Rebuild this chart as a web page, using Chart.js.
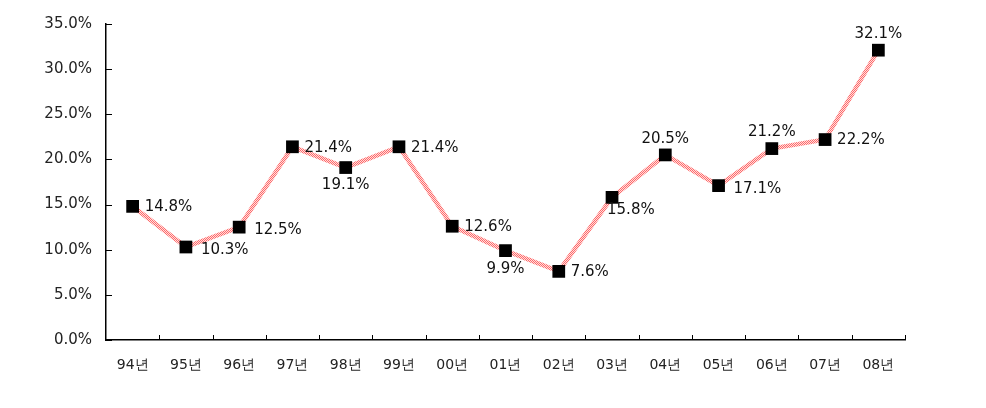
<!DOCTYPE html>
<html>
<head>
<meta charset="utf-8">
<script src="https://cdn.jsdelivr.net/npm/chart.js@4"></script>
<style>
  body { margin: 0; background: #fff; }
  #wrap { width: 986px; height: 408px; }
</style>
</head>
<body>
<div id="wrap"><canvas id="chart" width="986" height="408"></canvas></div>
<script>
// 데이터
const years = ['94년', '95년', '96년', '97년', '98년', '99년', '00년', '01년', '02년', '03년', '04년', '05년', '06년', '07년', '08년'];
const rates = [14.8, 10.3, 12.5, 21.4, 19.1, 21.4, 12.6, 9.9, 7.6, 15.8, 20.5, 17.1, 21.2, 22.2, 32.1];
const yTicks = [0, 5, 10, 15, 20, 25, 30, 35];

// 라벨 위치 (점 기준)
const labelSide = ['r', 'rb', 'rb', 'r', 'b', 'r', 'r', 'b', 'r', 'br', 't', 'rb', 't', 'r', 't'];

const FONT = 'DejaVu Sans';

// 빗금 패턴 선
function hatchPattern() {
    const c = document.createElement('canvas');
    c.width = 4; c.height = 4;
    const g = c.getContext('2d');
    g.fillStyle = '#ffdede';
    g.fillRect(0, 0, 4, 4);
    g.fillStyle = '#ff6a6a';
    for (let i = 0; i < 4; i++) {
        g.fillRect(i, i, 1, 1);
        g.fillRect((i + 2) % 4, i, 1, 1);
    }
    return document.getElementById('chart').getContext('2d').createPattern(c, 'repeat');
}

// 안쪽 눈금 + 값 라벨
const decorPlugin = {
    id: 'decor',
    afterDatasetsDraw(chart) {
        const ctx = chart.ctx;
        const area = chart.chartArea;
        const y = chart.scales.y;
        ctx.save();
        ctx.strokeStyle = '#000';
        ctx.lineWidth = 1;
        ctx.beginPath();
        yTicks.forEach(v => {
            const py = Math.round(y.getPixelForValue(v)) + 0.5;
            ctx.moveTo(area.left, py);
            ctx.lineTo(area.left + 6, py);
        });
        for (let i = 1; i <= years.length; i++) {
            const px = Math.round(area.left + (area.right - area.left) * i / years.length) + 0.5;
            ctx.moveTo(px, area.bottom);
            ctx.lineTo(px, area.bottom - 5);
        }
        ctx.stroke();

        ctx.fillStyle = '#111';
        ctx.font = '15px "' + FONT + '"';
        const meta = chart.getDatasetMeta(0);
        meta.data.forEach((pt, i) => {
            const txt = rates[i].toFixed(1) + '%';
            const side = labelSide[i];
            let tx = pt.x, ty = pt.y;
            ctx.textBaseline = 'middle';
            if (side === 'r') { ctx.textAlign = 'left'; tx += 12; ty += 1; }
            else if (side === 'rb') { ctx.textAlign = 'left'; tx += 15; ty += 3; }
            else if (side === 'br') { ctx.textAlign = 'left'; tx -= 5; ty += 13; }
            else if (side === 'b') { ctx.textAlign = 'center'; ty += 18; }
            else if (side === 't') { ctx.textAlign = 'center'; ty -= 16; }
            ctx.fillText(txt, tx, ty);
        });
        ctx.restore();
    }
};

new Chart(document.getElementById('chart'), {
    type: 'line',
    data: {
        labels: years,
        datasets: [{
            data: rates,
            borderColor: hatchPattern(),
            borderWidth: 4.5,
            tension: 0,
            pointStyle: 'rect',
            pointRadius: 9,
            pointBackgroundColor: '#000',
            pointBorderColor: '#000',
            pointBorderWidth: 0
        }]
    },
    options: {
        responsive: false,
        animation: false,
        layout: { padding: { left: 0, right: 81, top: 24, bottom: 0 } },
        plugins: {
            legend: { display: false },
            tooltip: { enabled: false }
        },
        scales: {
            x: {
                offset: true,
                grid: { display: false },
                border: { color: '#000', width: 1.5 },
                ticks: { color: '#222', font: { family: FONT, size: 14 }, padding: 9 },
                afterFit(s) { s.height = 68; }
            },
            y: {
                min: 0,
                max: 35,
                grid: { display: false },
                border: { color: '#000', width: 1.5 },
                ticks: {
                    stepSize: 5,
                    color: '#222',
                    font: { family: FONT, size: 15 },
                    padding: 6,
                    callback: v => v.toFixed(1) + '%'
                },
                afterFit(s) { s.width = 106; }
            }
        }
    },
    plugins: [decorPlugin]
});
</script>
</body>
</html>
